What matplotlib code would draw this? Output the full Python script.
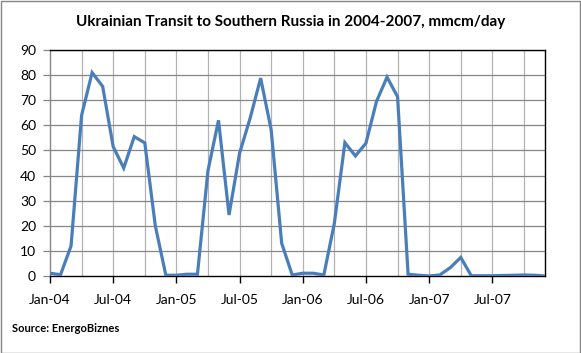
import matplotlib.pyplot as plt
from matplotlib.patches import Rectangle

# -------------------------
# Data (mmcm/day, monthly Jan-04 .. Dec-07)
# -------------------------
months = list(range(48))
transit = [
    1.1, 0.5, 12.0, 64.0, 81.0, 75.5, 51.5, 43.0, 55.5, 53.0, 20.0, 0.3,
    0.3, 0.7, 0.7, 42.0, 62.0, 24.3, 48.9, 62.8, 78.8, 58.2, 13.0, 0.4,
    1.1, 1.1, 0.4, 21.0, 53.1, 47.8, 52.9, 69.5, 79.2, 71.4, 0.7, 0.3,
    0.0, 0.4, 3.3, 7.4, 0.1, 0.1, 0.1, 0.2, 0.3, 0.4, 0.3, 0.0,
]
tick_pos = [0, 6, 12, 18, 24, 30, 36, 42]
tick_labels = ["Jan-04", "Jul-04", "Jan-05", "Jul-05",
               "Jan-06", "Jul-06", "Jan-07", "Jul-07"]
y_ticks = list(range(0, 91, 10))

plt.rcParams['font.family'] = ['Lato', 'DejaVu Sans']

fig = plt.figure(figsize=(5.81, 3.53), dpi=100)
W, H = 581, 353
ax = fig.add_axes([50 / W, 1 - 276 / H, (545 - 50) / W, (276 - 50) / H])

# vertical grid every 3 months, horizontal every 10
for m in range(3, 47, 3):
    ax.axvline(m, color='#b3b3b3', lw=0.9, zorder=1)
for v in y_ticks[1:]:
    ax.axhline(v, color='#868686', lw=0.9, zorder=1)

ax.plot(months, transit, color='#4a7ebb', lw=2.3, zorder=3,
        solid_joinstyle='miter')

ax.set_xlim(0, 47)
ax.set_ylim(0, 90)
ax.set_xticks(tick_pos)
ax.set_xticklabels(tick_labels, fontsize=10)
ax.set_yticks(y_ticks)
ax.set_yticklabels([str(v) for v in y_ticks], fontsize=10)
ax.tick_params(axis='x', direction='out', length=5, width=1, pad=8,
               color='black')
ax.tick_params(axis='y', direction='out', length=5, width=0.9, pad=5,
               color='#868686')
for s in ax.spines.values():
    s.set_color('black')
    s.set_linewidth(1.0)
ax.spines['left'].set_color('#868686')

fig.text(0.5, 1 - 22 / H, "Ukrainian Transit to Southern Russia in 2004-2007, mmcm/day",
         ha='center', va='center', fontsize=11, fontweight='bold')
fig.text(12 / W, 1 - 328 / H, "Source: EnergoBiznes",
         ha='left', va='center', fontsize=8, fontweight='bold')

fig.patches.append(Rectangle((0.5 / W, 0.5 / H), 1 - 1.5 / W, 1 - 1.5 / H,
                             transform=fig.transFigure, fill=False,
                             edgecolor='#868686', lw=1.0))

fig.savefig("out.png", dpi=100)
